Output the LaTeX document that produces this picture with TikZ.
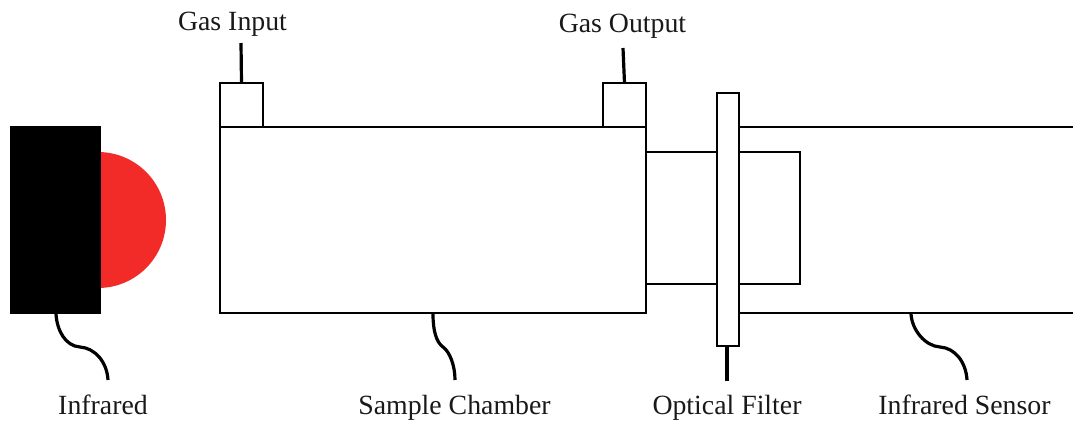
\documentclass[tikz,border=0pt]{standalone}
\usepackage{fontspec}
\setmainfont{Liberation Serif}
\definecolor{ledred}{HTML}{F22B29}
\tikzset{
  box/.style={draw=black,line width=2.6pt,fill=white,rectangle,inner sep=0pt,outer sep=0pt,line join=miter},
  wire/.style={draw=black,line width=2.6pt},
  lead/.style={draw=black,line width=3.2pt},
  lab/.style={font=\fontsize{27.8pt}{30pt}\selectfont,anchor=base,inner sep=0pt,text=black!90}
}
\begin{document}
\begin{tikzpicture}[x=1pt,y=-1pt]
\useasboundingbox (0,0) rectangle (1073,421);
% LED dome
\begin{scope}
  \clip (100,140) rectangle (180,300);
  \fill[ledred] (98,220) circle[radius=68];
\end{scope}
\node[fill=black,rectangle,inner sep=0pt,outer sep=0pt,minimum width=91pt,minimum height=188pt] (led) at (55.5,220) {};
% sensor and inner tube
\coordinate (sTL) at (739,127);
\coordinate (sTR) at (1074,127);
\coordinate (sBL) at (739,313);
\coordinate (sBR) at (1074,313);
\draw[wire] (sTL) -- (sTR);
\draw[wire] (sBL) -- (sBR);
\node[box,fill=none,minimum width=154pt,minimum height=132pt] (tube) at (723,218) {};
% chamber and ports
\node[box,minimum width=43pt,minimum height=44pt] (portin) at (241.5,105) {};
\node[box,minimum width=43pt,minimum height=44pt] (portout) at (624.5,105) {};
\node[box,minimum width=426pt,minimum height=186pt] (chamber) at (433,220) {};
\node[box,minimum width=22pt,minimum height=253pt] (filter) at (728,219.5) {};
% labels
\node[lab] (lIn) at (232.5,30) {Gas Input};
\node[lab] (lOut) at (622.5,32) {Gas Output};
\node[lab] (lIr) at (103,414.5) {Infrared};
\node[lab] (lSc) at (454.5,414.5) {Sample Chamber};
\node[lab] (lOf) at (727,414.5) {Optical Filter};
\node[lab] (lIs) at (964.5,414.5) {Infrared Sensor};
% leader ends
\coordinate (eIn) at (241,43);
\coordinate (eOut) at (623,48);
\coordinate (sIr) at (56,314);
\coordinate (eIr) at (108,380);
\coordinate (sSc) at (433,314);
\coordinate (eSc) at (455,380);
\coordinate (eOf) at (727,381);
\coordinate (sIs) at (911,314);
\coordinate (eIs) at (967,380);
\draw[lead] (eIn) -- (portin.north);
\draw[lead] (eOut) -- (portout.north);
\draw[lead] (filter.south) ++(-1,0) -- (eOf);
\draw[lead] (sIr) .. controls (57,330) and (65,346) .. (80,347) .. controls (95,348) and (107,362) .. (eIr);
\draw[lead] (sSc) .. controls (433,330) and (436,342) .. (443,347) .. controls (450,352) and (455,366) .. (eSc);
\draw[lead] (sIs) .. controls (912,330) and (925,346) .. (940,347) .. controls (955,348) and (966,362) .. (eIs);
\end{tikzpicture}
\end{document}
